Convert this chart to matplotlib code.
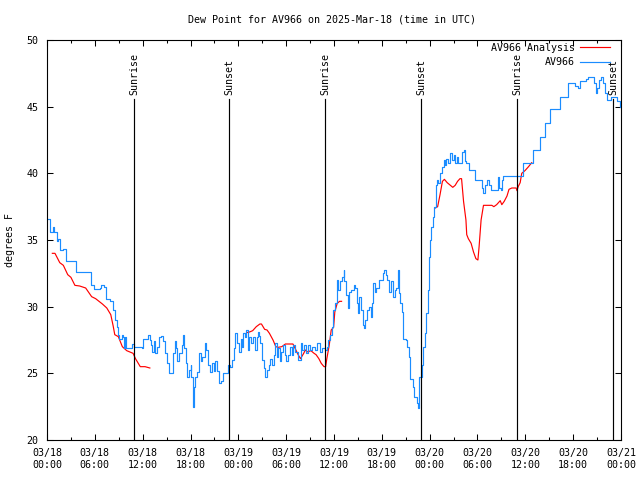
import numpy as np
import matplotlib
matplotlib.use("Agg")
import matplotlib.pyplot as plt
from matplotlib.ticker import MultipleLocator

# 观测值 AV966（小时，从 03/18 00:00 UTC 算起）
obs_hours = [0.1, 0.4, 0.7, 0.9, 1.2, 1.4, 1.6, 2.05, 2.35, 3.3, 3.6, 5.2, 5.5, 5.9, 6.6, 6.8,
             7.15, 7.4, 7.9, 8.3, 8.5, 8.75, 8.85, 9.0, 9.2, 9.35, 9.55, 9.7, 9.8, 9.9, 10.7,
             10.9, 11.9, 12.0, 12.7, 12.9, 13.05, 13.2, 13.4, 13.6, 13.8, 14.05, 14.3, 14.5,
             14.8, 15.1, 15.3, 15.55, 15.85, 16.0, 16.2, 16.35, 16.6, 16.9, 17.1, 17.2, 17.4,
             17.6, 17.75, 18.0, 18.1, 18.3, 18.35, 18.5, 18.6, 18.85, 19.1, 19.3, 19.5, 19.8,
             20.0, 20.25, 20.5, 20.7, 20.9, 21.1, 21.3, 21.6, 21.8, 22.05, 22.5, 22.75, 23.0,
             23.2, 23.4, 23.6, 23.8, 24.05, 24.3, 24.45, 24.6, 24.8, 25.0, 25.2, 25.4, 25.6,
             25.8, 26.05, 26.3, 26.5, 26.6, 26.75, 27.0, 27.2, 27.4, 27.6, 27.8, 28.0, 28.2,
             28.45, 28.65, 28.85, 29.0, 29.2, 29.4, 29.6, 29.85, 30.0, 30.2, 30.45, 30.7, 30.9,
             31.1, 31.5, 31.8, 31.95, 32.2, 32.5, 32.7, 33.0, 33.3, 33.6, 33.9, 34.2, 34.5,
             34.85, 35.1, 35.3, 35.55, 35.7, 35.9, 36.1, 36.35, 36.55, 36.75, 36.95, 37.2,
             37.3, 37.5, 37.7, 37.9, 38.1, 38.45, 38.6, 38.85, 39.0, 39.15, 39.35, 39.6, 39.75,
             39.9, 40.2, 40.45, 40.65, 40.8, 40.95, 41.1, 41.3, 41.6, 42.0, 42.1, 42.3, 42.5,
             42.7, 42.9, 43.1, 43.2, 43.45, 43.6, 43.75, 44.0, 44.1, 44.3, 44.5, 44.7, 45.0,
             45.2, 45.4, 45.55, 45.85, 46.0, 46.25, 46.4, 46.5, 46.6, 46.7, 46.9, 47.05, 47.2,
             47.4, 47.6, 47.75, 47.9, 48.05, 48.2, 48.4, 48.6, 48.75, 48.95, 49.1, 49.3, 49.5,
             49.75, 49.9, 50.1, 50.35, 50.6, 50.8, 51.0, 51.2, 51.4, 51.6, 52.0, 52.25, 52.45,
             52.6, 52.9, 53.5, 53.7, 54.3, 54.55, 54.75, 54.95, 55.25, 55.45, 55.7, 56.4, 56.6,
             56.7, 56.95, 57.1, 57.25, 59.15, 59.75, 60.7, 60.95, 61.4, 61.8, 62.5, 63.1, 64.3,
             65.3, 66.0, 66.2, 66.6, 66.9, 67.6, 67.8, 68.45, 68.6, 68.9, 69.05, 69.3, 69.45,
             69.7, 70.0, 70.2, 70.6, 70.8, 71.45, 71.55, 71.9]
obs_dewpt = [36.6, 35.6, 36.0, 35.6, 34.9, 35.1, 34.25, 34.3, 33.4, 33.4, 32.6, 32.6, 31.6, 31.3,
             31.4, 31.6, 31.45, 30.6, 30.4, 29.75, 29.0, 28.5, 27.9, 27.6, 27.6, 27.9, 27.7,
             26.9, 27.7, 26.9, 27.2, 27.0, 26.9, 27.55, 27.9, 27.5, 27.1, 26.6, 27.4, 26.5,
             27.0, 27.75, 27.8, 27.4, 26.5, 25.75, 25.0, 25.0, 26.5, 27.4, 26.9, 25.9, 26.5,
             27.1, 27.9, 26.9, 25.75, 24.75, 25.25, 25.6, 24.75, 23.25, 22.5, 24.0, 24.75,
             25.1, 26.5, 25.9, 26.2, 27.25, 26.75, 25.6, 25.1, 25.75, 25.2, 25.9, 25.2, 24.25,
             24.4, 25.0, 25.0, 25.6, 25.5, 26.0, 26.9, 28.0, 27.25, 26.6, 27.6, 27.0, 28.0,
             27.75, 28.25, 26.75, 27.75, 27.25, 27.75, 26.75, 27.75, 28.1, 27.8, 27.25, 26.0,
             25.4, 24.75, 25.25, 25.6, 26.1, 25.6, 26.4, 27.25, 26.25, 26.9, 25.9, 26.6, 27.1,
             26.4, 25.9, 26.4, 27.0, 26.4, 27.1, 26.6, 26.0, 27.25, 26.75, 27.1, 26.5, 27.1,
             26.75, 27.0, 26.75, 27.25, 26.6, 26.9, 26.75, 27.0, 27.5, 27.9, 28.5, 29.75, 30.25,
             32.0, 31.25, 31.9, 32.25, 32.75, 31.9, 30.9, 29.9, 31.1, 31.25, 31.6, 31.4, 30.25,
             29.5, 30.75, 29.75, 28.6, 28.4, 29.0, 29.75, 30.0, 29.25, 30.25, 31.75, 31.1, 31.4,
             32.0, 32.0, 32.5, 32.75, 32.4, 32.0, 31.1, 31.4, 31.9, 30.75, 31.25, 31.4, 32.75,
             31.0, 30.25, 29.6, 27.6, 27.5, 27.0, 26.25, 24.6, 24.0, 23.25, 23.2, 22.75, 22.4,
             23.75, 24.75, 24.75, 25.6, 27.0, 28.0, 29.5, 31.25, 33.75, 35.0, 36.0, 36.75, 37.5,
             39.1, 39.5, 39.25, 40.0, 40.5, 41.0, 40.6, 41.1, 40.8, 41.5, 41.0, 41.4, 40.75,
             41.2, 40.75, 41.6, 41.75, 40.9, 40.75, 40.25, 40.25, 39.5, 39.5, 38.9, 38.5, 39.1,
             39.5, 39.1, 38.75, 38.75, 39.75, 38.9, 38.75, 39.5, 39.8, 39.8, 40.75, 40.75,
             41.75, 41.75, 42.75, 43.75, 44.8, 45.75, 46.75, 46.75, 46.55, 46.4, 46.95, 47.05,
             47.2, 47.2, 46.75, 46.0, 46.4, 47.0, 47.2, 46.75, 46.0, 45.5, 45.5, 45.75, 45.75,
             45.4, 45.0]

# 分析值 AV966 Analysis（nan 为缺测间隔）
ana_hours = [0.67, 1.0, 1.6, 2.05, 2.6, 3.0, 3.5, 4.1, 4.85, 5.6, 6.1, 6.95, 7.5, 8.0, 8.3, 8.5,
             8.95, 9.45, 10.0, 10.8, 11.1, 11.7, 12.3, 12.9, 12.95,
             25.05, 25.4, 25.8, 26.25, 26.7, 26.9, 27.3, 27.6, 27.9, 28.35, 28.7, 29.0, 29.45,
             29.9, 30.85, 31.1, 31.5, 31.8, 32.2, 32.4, 32.7, 33.1, 33.5, 33.75, 34.1, 34.4,
             34.75, 34.95, 35.1, 35.4, 35.65, 35.95, 36.1, 36.4, 36.7, 36.95, 37.0,
             48.7, 49.0, 49.3, 49.6, 49.85, 50.2, 50.6, 50.9, 51.2, 51.5, 51.8, 52.0, 52.25,
             52.55, 52.65, 52.85, 53.2, 53.5, 53.8, 54.05, 54.2, 54.45, 54.75, 55.8, 56.05,
             56.4, 56.85, 57.05, 57.35, 57.7, 57.95, 58.3, 58.85, 58.95, 59.1, 59.35, 59.55,
             59.95, 60.4, 60.8]
ana_dewpt = [34.0, 34.0, 33.3, 33.1, 32.4, 32.2, 31.6, 31.55, 31.4, 30.75, 30.6, 30.2, 29.9, 29.4,
             28.55, 27.9, 27.75, 27.0, 26.7, 26.5, 26.1, 25.5, 25.5, 25.4, np.nan,
             28.05, 28.1, 28.2, 28.5, 28.7, 28.7, 28.3, 28.25, 28.0, 27.5, 27.0, 26.95, 27.0,
             27.2, 27.2, 26.9, 26.4, 26.1, 26.5, 26.75, 26.6, 26.7, 26.5, 26.4, 26.1, 25.75,
             25.5, 25.5, 26.1, 27.1, 28.25, 28.45, 29.6, 30.25, 30.4, 30.4, np.nan,
             37.4, 37.5, 38.4, 39.4, 39.55, 39.3, 39.1, 38.95, 39.1, 39.4, 39.6, 39.6, 37.9,
             36.5, 35.4, 35.1, 34.75, 34.1, 33.6, 33.5, 34.5, 36.5, 37.6, 37.6, 37.5, 37.65,
             37.95, 37.65, 37.9, 38.3, 38.8, 38.9, 38.9, 38.7, 39.0, 39.3, 40.0, 40.2, 40.5,
             40.8]

# 日出日落时刻
sun_hours = [10.9, 22.85, 34.9, 46.9, 59.0, 71.0]
sun_labels = ["Sunrise", "Sunset", "Sunrise", "Sunset", "Sunrise", "Sunset"]

xtick_labels = ["03/18\n00:00", "03/18\n06:00", "03/18\n12:00", "03/18\n18:00",
                "03/19\n00:00", "03/19\n06:00", "03/19\n12:00", "03/19\n18:00",
                "03/20\n00:00", "03/20\n06:00", "03/20\n12:00", "03/20\n18:00",
                "03/21\n00:00"]

FS = 7.2
plt.rcParams['font.family'] = ['DejaVu Sans Mono']
plt.rcParams['font.size'] = FS

fig = plt.figure(figsize=(6.4, 4.8), dpi=100)
ax = fig.add_axes([47 / 640, 40 / 480, 574 / 640, 400 / 480])

ax.plot(ana_hours, ana_dewpt, color='#ff0000', lw=0.85, label='AV966 Analysis')
ax.plot(obs_hours, obs_dewpt, color='#1a8cff', lw=0.85, drawstyle='steps-post', label='AV966')

for h, lab in zip(sun_hours, sun_labels):
    ax.axvline(h, ymin=0, ymax=0.852, color='black', lw=0.85)
    ax.text(h, 0.862, lab, transform=ax.get_xaxis_transform(), rotation=90,
            ha='center', va='bottom', fontsize=FS)

ax.set_xlim(0, 72)
ax.set_ylim(20, 50)
ax.set_xticks(np.arange(0, 73, 6))
ax.set_xticklabels(xtick_labels)
ax.xaxis.set_minor_locator(MultipleLocator(3))
ax.set_yticks(np.arange(20, 51, 5))
ax.tick_params(which='both', direction='in', top=True, right=True, width=0.75)
ax.tick_params(which='major', length=4, pad=6)
ax.tick_params(which='minor', length=2.5)
for s in ax.spines.values():
    s.set_linewidth(0.8)

fig.text(332 / 640, 1 - 20 / 480, "Dew Point for AV966 on 2025-Mar-18 (time in UTC)",
         ha='center', va='center', fontsize=FS)
fig.text(10 / 640, 0.5, "degrees F", rotation=90, ha='center', va='center', fontsize=FS)

ax.legend(loc='upper right', frameon=False, markerfirst=False, handlelength=3.0,
          handletextpad=0.5, borderaxespad=0, borderpad=0, labelspacing=0.45,
          bbox_to_anchor=(1 - 11 / 574, 1 - 3 / 400))

fig.savefig("out.png", dpi=100)
